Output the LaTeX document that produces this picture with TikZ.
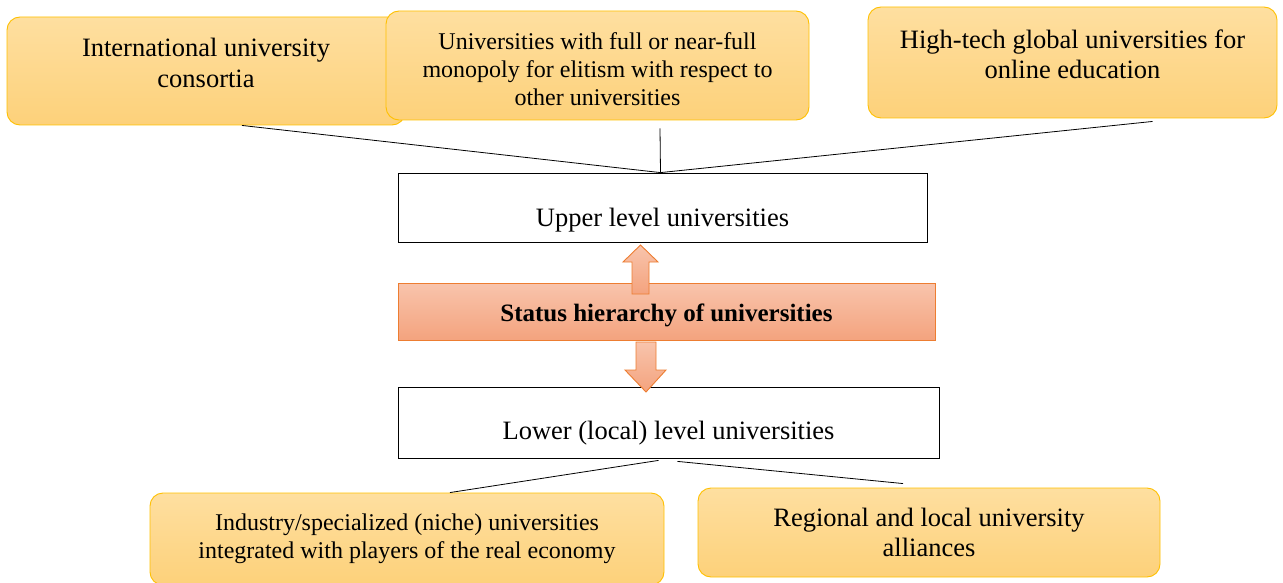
\documentclass[tikz,border=0pt]{standalone}
\usepackage{fontspec}
\setmainfont{Liberation Serif}
\usetikzlibrary{calc}
\definecolor{boxtop}{RGB}{254,223,160}
\definecolor{boxbot}{RGB}{253,209,122}
\definecolor{boxline}{RGB}{255,192,0}
\definecolor{hiertop}{RGB}{248,196,172}
\definecolor{hierbot}{RGB}{244,163,126}
\definecolor{hierline}{RGB}{237,125,49}

\begin{document}
\begin{tikzpicture}[x=1pt,y=-1pt,
		kind/.style={rectangle,rounded corners=13pt,draw=boxline,line width=0.9pt,
			top color=boxtop,bottom color=boxbot,align=center,inner sep=0pt},
		level/.style={rectangle,draw=black,line width=0.8pt,fill=white,inner sep=0pt},
		hier/.style={rectangle,draw=hierline,line width=0.9pt,top color=hiertop,
			bottom color=hierbot,inner sep=0pt,font=\fontsize{25pt}{30pt}\selectfont\bfseries},
		bigtext/.style={font=\fontsize{26.5pt}{30.5pt}\selectfont},
		smalltext/.style={font=\fontsize{24pt}{28pt}\selectfont},
		updown/.style={draw=hierline,line width=0.9pt,top color=hiertop,bottom color=hierbot},
		link/.style={draw=black,line width=0.8pt}]
		\useasboundingbox (0,0) rectangle (1283,583);
		
		% upper kinds
		\node[kind,bigtext,minimum width=398pt,minimum height=108pt] (cons) at (206,71)
			{International university\\consortia\rule[-16pt]{0pt}{0pt}};
		\node[kind,smalltext,minimum width=423pt,minimum height=109pt] (mono) at (597.5,65.5)
			{\rule{0pt}{24pt}Universities with full or near-full\\monopoly for elitism with respect to\\other universities};
		\node[kind,bigtext,minimum width=409pt,minimum height=111pt] (online) at (1072.5,62.5)
			{High-tech global universities for\\online education\rule[-17pt]{0pt}{0pt}};
		
		% levels
		\node[level,bigtext,minimum width=529pt,minimum height=69pt,text height=37pt,text depth=0pt]
			(upper) at (662.5,207.5) {Upper level universities};
		\node[hier,minimum width=537pt,minimum height=57pt,text height=20pt,text depth=0pt]
			(status) at (666.5,311.5) {Status hierarchy of universities};
		\node[level,bigtext,minimum width=541pt,minimum height=71pt,text height=33pt,text depth=0pt]
			(lower) at (668.5,422.5) {Lower (local) level universities};
		
		% lower kinds
		\node[kind,smalltext,minimum width=514pt,minimum height=92pt] (industry) at (407,539)
			{Industry/specialized (niche) universities\\integrated with players of the real economy};
		\node[kind,bigtext,minimum width=462pt,minimum height=89pt] (regional) at (929,532.5)
			{Regional and local university\\alliances};
		
		% arrows
		\path[updown] (640.5,245) -- (658,262) -- (649,262) -- (649,294) -- (632,294)
			-- (632,262) -- (623,262) -- cycle;
		\path[updown] (636,342) -- (656,342) -- (656,370) -- (666,370) -- (646,392)
			-- (625,370) -- (636,370) -- cycle;
		
		% connectors
		\draw[link] ([xshift=36pt]cons.south) -- ([xshift=-2pt]upper.north);
		\draw[link] ([xshift=62.5pt,yshift=-8pt]mono.south) -- ([xshift=-2pt]upper.north);
		\draw[link] ([xshift=80pt,yshift=-3pt]online.south) -- ([xshift=-2pt]upper.north);
		\draw[link] ([xshift=-10pt,yshift=-2pt]lower.south) -- ([xshift=43pt]industry.north);
		\draw[link] ([xshift=9pt,yshift=-3pt]lower.south) -- ([xshift=-26pt,yshift=4pt]regional.north);
\end{tikzpicture}
\end{document}
